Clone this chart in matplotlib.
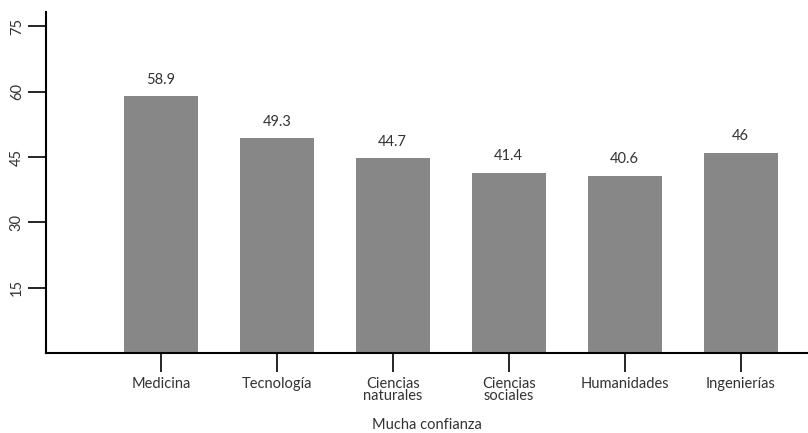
import matplotlib
matplotlib.use("Agg")
import matplotlib.pyplot as plt

plt.rcParams['font.family'] = ['Lato', 'DejaVu Sans']

categories = ["Medicina", "Tecnología", "Ciencias\nnaturales", "Ciencias\nsociales",
              "Humanidades", "Ingenierías"]
values = [58.9, 49.3, 44.7, 41.4, 40.6, 46]
value_labels = ["58.9", "49.3", "44.7", "41.4", "40.6", "46"]
y_ticks = [15, 30, 45, 60, 75]

fig = plt.figure(figsize=(8.08, 4.33), dpi=100)
ax = fig.add_axes([46 / 808, 80 / 433, 762 / 808, 341 / 433])

x = list(range(len(categories)))
bars = ax.bar(x, values, width=0.635, color="#878787", zorder=2)

fs = 10.5
for xi, v, lab in zip(x, values, value_labels):
    ax.annotate(lab, (xi, v), xytext=(0, 7), textcoords="offset points",
                ha="center", va="bottom", fontsize=fs, color="#333333")

ax.set_xlim(-0.99, 5.58)
ax.set_ylim(0, 78.3)
ax.set_xticks(x)
ax.set_xticklabels(categories, fontsize=fs, color="#333333", linespacing=0.85)
ax.set_yticks(y_ticks)
ax.set_yticklabels([str(t) for t in y_ticks], rotation=90, va="center",
                   fontsize=fs, color="#333333")
ax.tick_params(axis="x", length=14, width=1.2, pad=3)
ax.tick_params(axis="y", length=13, width=1.2, pad=3)
ax.set_xlabel("Mucha confianza", fontsize=fs, color="#333333", labelpad=11)

for side in ["top", "right"]:
    ax.spines[side].set_visible(False)
for side in ["left", "bottom"]:
    ax.spines[side].set_linewidth(1.5)
    ax.spines[side].set_color("black")

fig.savefig("out.png", dpi=100)
